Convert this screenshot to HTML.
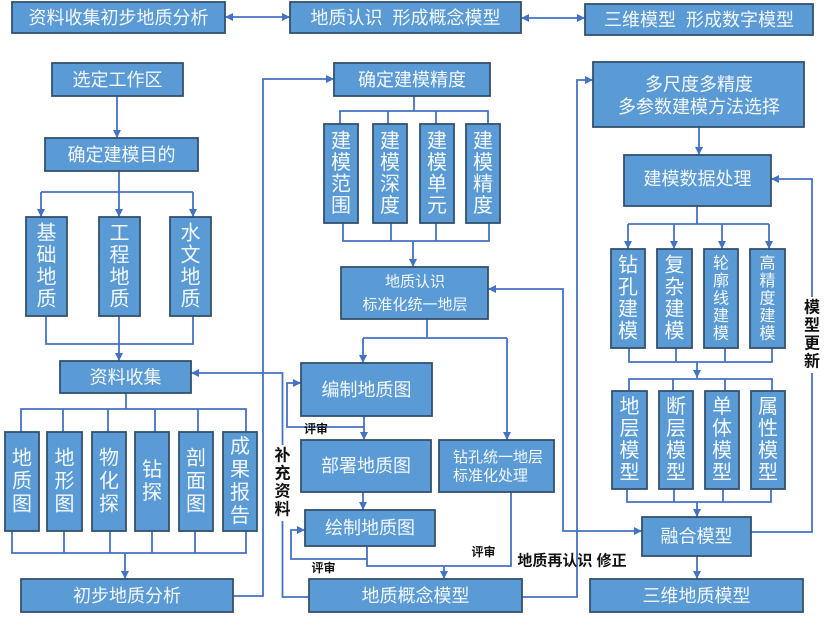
<!DOCTYPE html>
<html>
<head>
<meta charset="utf-8">
<style>
html,body{margin:0;padding:0;background:#fff;}
svg{display:block;}
.b{fill:#5B9BD5;stroke:#34506E;stroke-width:1.8;}
.t{font-family:"Liberation Sans","Noto Sans CJK SC",sans-serif;fill:#F4F8FC;text-anchor:middle;dominant-baseline:central;font-size:18px;}
.v{font-size:20px;}
.s{font-size:16px;}
.m{font-size:15px;}
.k{font-family:"Liberation Sans","Noto Sans CJK SC",sans-serif;fill:#111;font-weight:bold;text-anchor:middle;dominant-baseline:central;}
.l{fill:none;stroke:#4472C4;stroke-width:1.8;}
</style>
</head>
<body>
<svg width="829" height="619" viewBox="0 0 829 619" xmlns="http://www.w3.org/2000/svg">
<defs>
<marker id="a" viewBox="0 0 8 8" refX="8" refY="4" markerWidth="8" markerHeight="8" markerUnits="userSpaceOnUse" orient="auto-start-reverse">
<path d="M0,0 L8,4 L0,8 z" fill="#4472C4"/>
</marker>
</defs>

<!-- LINES -->
<g class="l">
<polyline points="225,17 290,17" marker-start="url(#a)" marker-end="url(#a)"/>
<polyline points="521,18 585,18" marker-start="url(#a)" marker-end="url(#a)"/>

<polyline points="117,96 117,138" marker-end="url(#a)"/>
<polyline points="119,171 119,192"/>
<polyline points="41,192 193,192"/>
<polyline points="41,192 41,217" marker-end="url(#a)"/>
<polyline points="119,192 119,217" marker-end="url(#a)"/>
<polyline points="193,192 193,217" marker-end="url(#a)"/>
<polyline points="46,316 46,344 193,344 193,316"/>
<polyline points="119,316 119,361" marker-end="url(#a)"/>
<polyline points="126,393 126,409"/>
<polyline points="21,432 21,409 246,409 246,432"/>
<polyline points="63,409 63,432"/>
<polyline points="108,409 108,432"/>
<polyline points="155,409 155,432"/>
<polyline points="198,409 198,432"/>
<polyline points="12,531 12,553 246,553 246,531"/>
<polyline points="64,531 64,553"/>
<polyline points="110,531 110,553"/>
<polyline points="152,531 152,553"/>
<polyline points="195,531 195,553"/>
<polyline points="125,553 125,579" marker-end="url(#a)"/>
<polyline points="233,596 263,596 263,79 334,79" marker-end="url(#a)"/>

<polyline points="414,96 414,111"/>
<polyline points="340,124 340,111 488,111 488,124"/>
<polyline points="388,111 388,124"/>
<polyline points="436,111 436,124"/>
<polyline points="343,223 343,241 489,241 489,223"/>
<polyline points="391,223 391,241"/>
<polyline points="436,223 436,241"/>
<polyline points="413,241 413,267" marker-end="url(#a)"/>
<polyline points="427,319 427,338"/>
<polyline points="363,338 507,338"/>
<polyline points="363,338 363,363" marker-end="url(#a)"/>
<polyline points="507,338 507,440" marker-end="url(#a)"/>
<polyline points="364,416 364,440" marker-end="url(#a)"/>
<polyline points="364,427 287,427 287,383 301,383" marker-end="url(#a)"/>
<polyline points="363,492 363,510" marker-end="url(#a)"/>
<polyline points="367,546 367,566 511,566 511,492"/>
<polyline points="367,559 291,559 291,530 305,530" marker-end="url(#a)"/>
<polyline points="444,566 444,579" marker-end="url(#a)"/>
<polyline points="309,597 282.5,597 282.5,521"/>
<polyline points="282.5,445 282.5,373 191,373" marker-end="url(#a)"/>
<polyline points="522,597 577,597 577,80 593,80" marker-end="url(#a)"/>
<polyline points="488,289 563,289 563,531 642,531" marker-start="url(#a)" marker-end="url(#a)"/>

<polyline points="699,127 699,155" marker-end="url(#a)"/>
<polyline points="812,297 812,179 771,179" marker-end="url(#a)"/>
<polyline points="697,206 697,224"/>
<polyline points="628,224 769,224"/>
<polyline points="628,224 628,249" marker-end="url(#a)"/>
<polyline points="674,224 674,249" marker-end="url(#a)"/>
<polyline points="722,224 722,249" marker-end="url(#a)"/>
<polyline points="769,224 769,249" marker-end="url(#a)"/>
<polyline points="629,348 629,362 772,362 772,348"/>
<polyline points="676,348 676,362"/>
<polyline points="725,348 725,362"/>
<polyline points="697,362 697,378" marker-end="url(#a)"/>
<polyline points="629,391 629,379 772,379 772,391"/>
<polyline points="673,379 673,391"/>
<polyline points="725,379 725,391"/>
<polyline points="627,489 627,502 771,502 771,489"/>
<polyline points="674,489 674,502"/>
<polyline points="723,489 723,502"/>
<polyline points="697,502 697,517" marker-end="url(#a)"/>
<polyline points="751,532 812,532 812,373"/>
<polyline points="697,556 697,579" marker-end="url(#a)"/>
</g>

<!-- BOXES -->
<g>
<rect class="b" x="12" y="2" width="213" height="31"/>
<rect class="b" x="290" y="2" width="231" height="31"/>
<rect class="b" x="585" y="4" width="228" height="31"/>
<rect class="b" x="52" y="63" width="131" height="33"/>
<rect class="b" x="45" y="138" width="153" height="33"/>
<rect class="b" x="26" y="217" width="41" height="99"/>
<rect class="b" x="99" y="217" width="41" height="99"/>
<rect class="b" x="170" y="217" width="41" height="99"/>
<rect class="b" x="60" y="361" width="131" height="32"/>
<rect class="b" x="5" y="432" width="34" height="99"/>
<rect class="b" x="47" y="432" width="35" height="99"/>
<rect class="b" x="92" y="432" width="34" height="99"/>
<rect class="b" x="135" y="432" width="34" height="99"/>
<rect class="b" x="179" y="432" width="34" height="99"/>
<rect class="b" x="223" y="432" width="34" height="99"/>
<rect class="b" x="21" y="579" width="212" height="33"/>
<rect class="b" x="334" y="63" width="156" height="33"/>
<rect class="b" x="324" y="124" width="34" height="99"/>
<rect class="b" x="373" y="124" width="34" height="99"/>
<rect class="b" x="420" y="124" width="34" height="99"/>
<rect class="b" x="466" y="124" width="34" height="99"/>
<rect class="b" x="341" y="267" width="147" height="52"/>
<rect class="b" x="301" y="363" width="131" height="53"/>
<rect class="b" x="301" y="440" width="130" height="52"/>
<rect class="b" x="305" y="510" width="130" height="36"/>
<rect class="b" x="439" y="440" width="115" height="52"/>
<rect class="b" x="309" y="579" width="213" height="33"/>
<rect class="b" x="593" y="62" width="211" height="65"/>
<rect class="b" x="624" y="155" width="147" height="51"/>
<rect class="b" x="611" y="249" width="34" height="99"/>
<rect class="b" x="657" y="249" width="35" height="99"/>
<rect class="b" x="704" y="249" width="34" height="99"/>
<rect class="b" x="750" y="249" width="35" height="99"/>
<rect class="b" x="612" y="391" width="35" height="98"/>
<rect class="b" x="659" y="391" width="34" height="98"/>
<rect class="b" x="705" y="391" width="34" height="98"/>
<rect class="b" x="751" y="391" width="34" height="98"/>
<rect class="b" x="642" y="517" width="109" height="39"/>
<rect class="b" x="590" y="579" width="213" height="33"/>
</g>

<!-- BOX TEXT -->
<g class="t">
<text x="118.5" y="18">资料收集初步地质分析</text>
<text x="405.5" y="18" xml:space="preserve">地质认识  形成概念模型</text>
<text x="699" y="20" xml:space="preserve">三维模型  形成数字模型</text>
<text x="117.5" y="80">选定工作区</text>
<text x="121.5" y="155">确定建模目的</text>

<text class="v" x="46.5" y="233.5">基</text><text class="v" x="46.5" y="255.5">础</text><text class="v" x="46.5" y="277.5">地</text><text class="v" x="46.5" y="299.5">质</text>
<text class="v" x="119.5" y="233.5">工</text><text class="v" x="119.5" y="255.5">程</text><text class="v" x="119.5" y="277.5">地</text><text class="v" x="119.5" y="299.5">质</text>
<text class="v" x="190.5" y="233.5">水</text><text class="v" x="190.5" y="255.5">文</text><text class="v" x="190.5" y="277.5">地</text><text class="v" x="190.5" y="299.5">质</text>

<text x="125.5" y="377.5">资料收集</text>

<text class="v" x="22" y="458.5">地</text><text class="v" x="22" y="481.5">质</text><text class="v" x="22" y="504.5">图</text>
<text class="v" x="64.5" y="458.5">地</text><text class="v" x="64.5" y="481.5">形</text><text class="v" x="64.5" y="504.5">图</text>
<text class="v" x="109" y="458.5">物</text><text class="v" x="109" y="481.5">化</text><text class="v" x="109" y="504.5">探</text>
<text class="v" x="152" y="470">钻</text><text class="v" x="152" y="493">探</text>
<text class="v" x="196" y="458.5">剖</text><text class="v" x="196" y="481.5">面</text><text class="v" x="196" y="504.5">图</text>
<text class="v" x="240" y="447">成</text><text class="v" x="240" y="470">果</text><text class="v" x="240" y="493">报</text><text class="v" x="240" y="516">告</text>

<text x="127" y="596">初步地质分析</text>

<text x="412" y="80">确定建模精度</text>
<text class="v" x="341" y="141.5">建</text><text class="v" x="341" y="163">模</text><text class="v" x="341" y="184.5">范</text><text class="v" x="341" y="206">围</text>
<text class="v" x="390" y="141.5">建</text><text class="v" x="390" y="163">模</text><text class="v" x="390" y="184.5">深</text><text class="v" x="390" y="206">度</text>
<text class="v" x="437" y="141.5">建</text><text class="v" x="437" y="163">模</text><text class="v" x="437" y="184.5">单</text><text class="v" x="437" y="206">元</text>
<text class="v" x="483" y="141.5">建</text><text class="v" x="483" y="163">模</text><text class="v" x="483" y="184.5">精</text><text class="v" x="483" y="206">度</text>

<text class="m" x="415" y="282">地质认识</text>
<text class="m" x="415" y="305">标准化统一地层</text>

<text x="366.5" y="390">编制地质图</text>
<text x="366" y="466">部署地质图</text>
<text x="370" y="528">绘制地质图</text>
<text class="m" x="453" y="457.5" style="text-anchor:start">钻孔统一地层</text>
<text class="m" x="453" y="476" style="text-anchor:start">标准化处理</text>
<text x="415.5" y="596">地质概念模型</text>

<text x="699" y="84.5">多尺度多精度</text>
<text x="699" y="107">多参数建模方法选择</text>
<text x="697.5" y="179">建模数据处理</text>

<text class="v" x="628" y="265.5">钻</text><text class="v" x="628" y="287.5">孔</text><text class="v" x="628" y="309.5">建</text><text class="v" x="628" y="331.5">模</text>
<text class="v" x="674.5" y="265.5">复</text><text class="v" x="674.5" y="287.5">杂</text><text class="v" x="674.5" y="309.5">建</text><text class="v" x="674.5" y="331.5">模</text>
<text class="s" x="721" y="264">轮</text><text class="s" x="721" y="281.5">廓</text><text class="s" x="721" y="299">线</text><text class="s" x="721" y="316.5">建</text><text class="s" x="721" y="334">模</text>
<text class="s" x="767.5" y="264">高</text><text class="s" x="767.5" y="281.5">精</text><text class="s" x="767.5" y="299">度</text><text class="s" x="767.5" y="316.5">建</text><text class="s" x="767.5" y="334">模</text>

<text class="v" x="629.5" y="407">地</text><text class="v" x="629.5" y="429">层</text><text class="v" x="629.5" y="451">模</text><text class="v" x="629.5" y="473">型</text>
<text class="v" x="676" y="407">断</text><text class="v" x="676" y="429">层</text><text class="v" x="676" y="451">模</text><text class="v" x="676" y="473">型</text>
<text class="v" x="722" y="407">单</text><text class="v" x="722" y="429">体</text><text class="v" x="722" y="451">模</text><text class="v" x="722" y="473">型</text>
<text class="v" x="768" y="407">属</text><text class="v" x="768" y="429">性</text><text class="v" x="768" y="451">模</text><text class="v" x="768" y="473">型</text>

<text x="696.5" y="536.5">融合模型</text>
<text x="696.5" y="596">三维地质模型</text>
</g>

<!-- BLACK LABELS -->
<g class="k">
<text x="316" y="429" font-size="12">评审</text>
<text x="323.5" y="568" font-size="12">评审</text>
<text x="483.5" y="552" font-size="12">评审</text>
<text x="572" y="561" font-size="15" xml:space="preserve">地质再认识 修正</text>
<text x="282.5" y="456" font-size="16">补</text>
<text x="282.5" y="474" font-size="16">充</text>
<text x="282.5" y="492" font-size="16">资</text>
<text x="282.5" y="510" font-size="16">料</text>
<text x="812" y="308" font-size="16">模</text>
<text x="812" y="326" font-size="16">型</text>
<text x="812" y="344" font-size="16">更</text>
<text x="812" y="362" font-size="16">新</text>
</g>
</svg>
</body>
</html>
